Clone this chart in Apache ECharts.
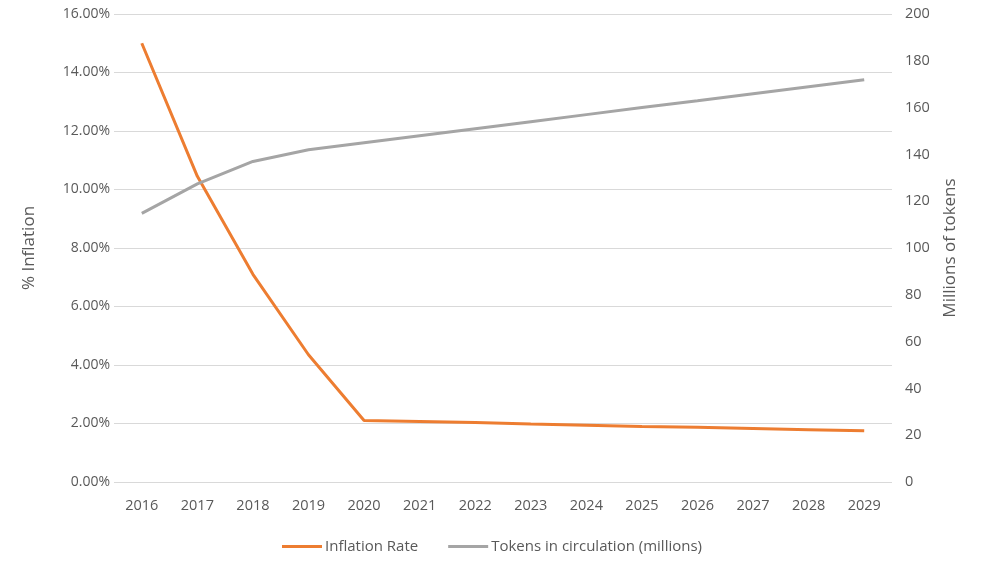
<!DOCTYPE html>
<html>
<head>
<meta charset="utf-8">
<script src="https://cdn.jsdelivr.net/npm/echarts@6/dist/echarts.min.js"></script>
<style>
  html, body { margin: 0; padding: 0; background: #fff; }
  #chart { width: 984px; height: 569px; }
</style>
</head>
<body>
<div id="chart"></div>
<script>
// data
const years = ['2016', '2017', '2018', '2019', '2020', '2021', '2022', '2023', '2024', '2025', '2026', '2027', '2028', '2029']
const inflationRate = [15.0, 10.45, 7.1, 4.35, 2.1, 2.07, 2.03, 1.98, 1.94, 1.9, 1.87, 1.83, 1.79, 1.75]
const tokens = [114.8, 127.4, 137.0, 142.0, 145.0, 148.0, 151.0, 154.0, 157.0, 160.0, 162.9, 165.9, 168.9, 171.9]

const textColor = '#595959'
const font = 'Open Sans'

var chart = echarts.init(document.getElementById('chart'))
chart.setOption({
  animation: false,
  textStyle: { fontFamily: font, color: textColor },
  grid: { left: 114, right: 92, top: 14, bottom: 87 },
  legend: {
    bottom: 10,
    left: 'center',
    itemWidth: 40,
    itemHeight: 3,
    itemGap: 30,
    icon: 'rect',
    textStyle: { fontFamily: font, fontSize: 15, color: textColor, padding: [0, 0, 0, -2] },
    data: ['Inflation Rate', 'Tokens in circulation (millions)']
  },
  xAxis: {
    type: 'category',
    data: years,
    boundaryGap: true,
    axisLine: { show: false },
    axisTick: { show: false },
    axisLabel: { color: textColor, fontSize: 14.5, margin: 16 }
  },
  yAxis: [
    {
      type: 'value',
      min: 0,
      max: 16,
      interval: 2,
      name: '% Inflation',
      nameLocation: 'middle',
      nameGap: 76,
      nameTextStyle: { fontSize: 17, color: textColor },
      axisLine: { show: false },
      axisTick: { show: false },
      axisLabel: { color: textColor, fontSize: 14, margin: 4, formatter: v => v.toFixed(2) + '%' },
      splitLine: { lineStyle: { color: '#D9D9D9', width: 1 } }
    },
    {
      type: 'value',
      min: 0,
      max: 200,
      interval: 20,
      name: 'Millions of tokens',
      nameLocation: 'middle',
      nameGap: 50,
      nameTextStyle: { fontSize: 17, color: textColor },
      axisLine: { show: false },
      axisTick: { show: false },
      axisLabel: { color: textColor, fontSize: 14.5, margin: 13 },
      splitLine: { show: false }
    }
  ],
  series: [
    {
      name: 'Inflation Rate',
      type: 'line',
      yAxisIndex: 0,
      data: inflationRate,
      symbol: 'none',
      color: '#ED7D31',
      lineStyle: { width: 3, color: '#ED7D31' }
    },
    {
      name: 'Tokens in circulation (millions)',
      type: 'line',
      yAxisIndex: 1,
      data: tokens,
      symbol: 'none',
      color: '#A5A5A5',
      lineStyle: { width: 3, color: '#A5A5A5' }
    }
  ]
})
</script>
</body>
</html>
